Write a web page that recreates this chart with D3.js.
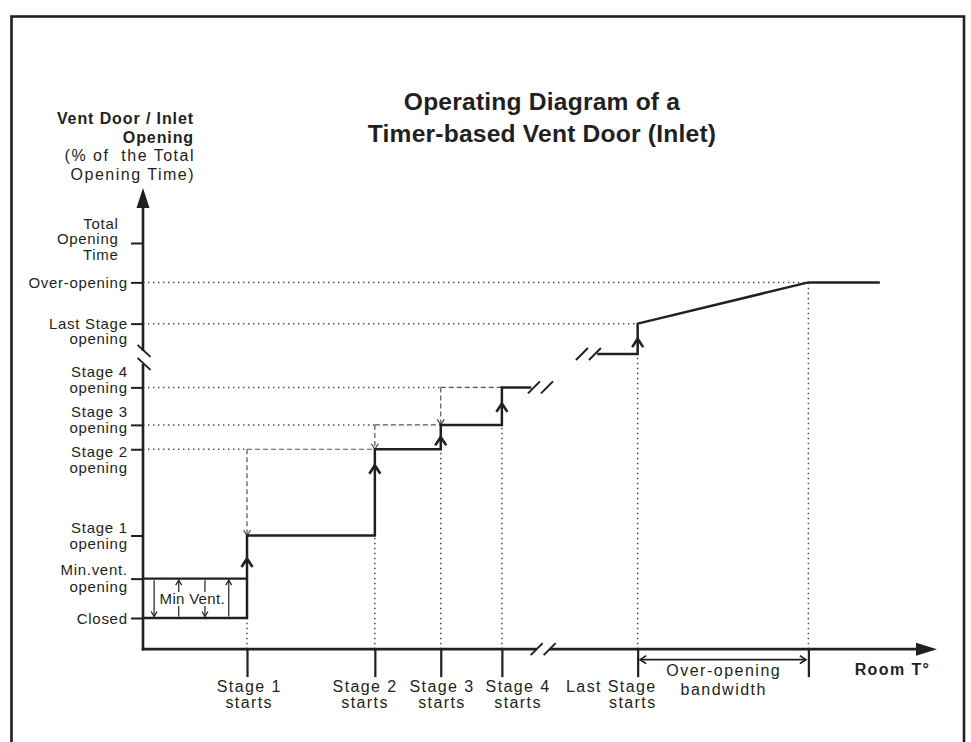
<!DOCTYPE html>
<html>
<head>
<meta charset="utf-8">
<script src="https://cdn.jsdelivr.net/npm/d3@7"></script>
<style>
  body { margin: 0; background: #fff; }
  svg text { font-family: "Liberation Sans", Arial, Helvetica, sans-serif; fill: #231f20; white-space: pre; }
</style>
</head>
<body>
<svg id="chart" width="971" height="742"></svg>
<script>
// ---- Data -------------------------------------------------------------
// Opening levels on the vertical axis (% of the total opening time)
const levelLabels = [
  ["Closed"], ["Min.vent.", "opening"], ["Stage 1", "opening"], ["Stage 2", "opening"],
  ["Stage 3", "opening"], ["Stage 4", "opening"], ["Last Stage", "opening"],
  ["Over-opening"], ["Total", "Opening", "Time"]
];
const levelValues = [0, 10.5, 22, 45, 51.5, 61.5, 78.5, 89.5, 100];

// Room temperature (relative units) at which each stage starts, and its opening
const stageLabels = [["Stage 1", "starts"], ["Stage 2", "starts"], ["Stage 3", "starts"], ["Stage 4", "starts"], ["Last Stage", "starts"]];
const stageStarts = [13.1, 29.2, 37.5, 45.2, 62.3];
const stageLevels = [22, 45, 51.5, 61.5, 78.5];

const minVentLevel = 10.5;
const beforeLastLevel = 70.4;       // opening held just before the last stage
const overOpeningEnd = 83.8;        // end of the over-opening bandwidth
const overOpeningLevel = 89.5;
const curveEnd = 92.8;
const curveBreak = [48.9, 57.2];    // curve is interrupted between these temperatures

const titleLines = ["Operating Diagram of a", "Timer-based Vent Door (Inlet)"];
const yTitleLines = ["Vent Door / Inlet", "Opening", "(% of  the Total", "Opening Time)"];
const xTitle = "Room T°";
const bandLabel = ["Over-opening", "bandwidth"];
const minVentLabel = "Min Vent.";

// ---- Layout -----------------------------------------------------------
const ink = "#231f20";
const guide = "#4a4a4a";
const x = d3.scaleLinear().domain([0, 100]).range([143, 937]);
const y = d3.scaleLinear().domain([0, 100]).range([618, 243]);
const xAxisAt = -8.3;        // vertical value where the temperature axis runs
const yAxisTop = 114.7;      // arrow tip of the opening axis
const yAxisBreak = 69.5;
const xAxisBreak = 50.4;
const curveBreakMarks = [[50.06, 61.5], [56.1, 70.4]];

const levelLabelDy = [5.5, -4, -3.5, 7, -8, -10.5, 4.5, 5, -15];
const levelLineGap = [16, 16.5, 16, 16, 16, 16, 15.5, 16, 15.5];
const stageLabelShift = [1, -11, 0, 15, 17];
const stageLabelAnchor = ["middle", "middle", "middle", "middle", "end"];
const chevronOffset = [23, 16, 12, 16, 15];
const minVentArrows = [[1.4, "down"], [4.5, "up"], [7.8, "down"], [10.8, "up"]];

const svg = d3.select("#chart");
const line = d3.line().x(d => x(d[0])).y(d => y(d[1]));

// frame
svg.append("rect")
  .attr("x", 11.5).attr("y", 16.5).attr("width", 952.5).attr("height", 780)
  .attr("fill", "none").attr("stroke", ink).attr("stroke-width", 2.6);

// title
svg.append("g").selectAll("text").data(titleLines).join("text")
  .attr("x", 542).attr("y", (d, i) => 109.5 + i * 32)
  .attr("text-anchor", "middle")
  .style("font-size", "24.6px").style("font-weight", "bold").style("letter-spacing", "0.2px")
  .text(d => d);

// vertical axis title
svg.append("g").selectAll("text").data(yTitleLines).join("text")
  .attr("x", (d, i) => i < 2 ? 194 : 195)
  .attr("y", (d, i) => [124, 142.5, 161, 180][i])
  .attr("text-anchor", "end")
  .style("font-size", "16px")
  .style("font-weight", (d, i) => i < 2 ? "bold" : "normal")
  .style("letter-spacing", (d, i) => i < 2 ? "0.9px" : "1.5px")
  .text(d => d);

// ---- Guide lines --------------------------------------------------------
const dotted = g => g.attr("fill", "none").attr("stroke", guide)
  .attr("stroke-width", 1.5).attr("stroke-dasharray", "1.4,3.6");
const dashed = g => g.attr("fill", "none").attr("stroke", "#555")
  .attr("stroke-width", 1.2).attr("stroke-dasharray", "5,3");

const gGuides = svg.append("g");

// horizontal dotted lines from the axis to the point where each level is reached
const hDotted = [
  [stageLevels[1], stageStarts[0]],
  [stageLevels[2], stageStarts[1]],
  [stageLevels[3], stageStarts[2]],
  [stageLevels[4], stageStarts[4]],
  [overOpeningLevel, overOpeningEnd]
];
hDotted.forEach(([lv, xe]) => {
  gGuides.append("path").call(dotted).attr("d", line([[0, lv], [xe, lv]]));
});

// vertical dotted lines from the temperature axis up to the curve
const vDotted = [
  [stageStarts[0], 0],
  [stageStarts[1], stageLevels[0]],
  [stageStarts[2], stageLevels[1]],
  [stageStarts[3], stageLevels[2]],
  [stageStarts[4], beforeLastLevel],
  [overOpeningEnd, overOpeningLevel]
];
vDotted.forEach(([xv, lv]) => {
  gGuides.append("path").call(dotted).attr("d", line([[xv, xAxisAt], [xv, lv]]));
});

// dashed lines showing the next stage's target opening
for (let i = 0; i < 3; i++) {
  const x0 = stageStarts[i], x1 = stageStarts[i + 1], lv = stageLevels[i + 1];
  gGuides.append("path").call(dashed).attr("d", line([[x0, lv], [x1, lv]]));
  gGuides.append("path").call(dashed).attr("d", line([[x0, lv], [x0, stageLevels[i]]]));
  const cx = x(x0), tip = y(stageLevels[i]);
  gGuides.append("path")
    .attr("d", `M${cx - 3.5},${tip - 5.5}L${cx},${tip}L${cx + 3.5},${tip - 5.5}`)
    .attr("fill", "none").attr("stroke", "#444").attr("stroke-width", 1.2);
}

// ---- Curve --------------------------------------------------------------
const ptsA = [[0, levelValues[0]]];
let prev = levelValues[0];
for (let i = 0; i < 4; i++) {
  ptsA.push([stageStarts[i], prev], [stageStarts[i], stageLevels[i]]);
  prev = stageLevels[i];
}
ptsA.push([curveBreak[0], prev]);
const ptsB = [
  [curveBreak[1], beforeLastLevel], [stageStarts[4], beforeLastLevel],
  [stageStarts[4], stageLevels[4]], [overOpeningEnd, overOpeningLevel],
  [curveEnd, overOpeningLevel]
];

const gCurve = svg.append("g").attr("fill", "none").attr("stroke", ink);
gCurve.append("path").attr("d", line(ptsA)).attr("stroke-width", 2.5);
gCurve.append("path").attr("d", line(ptsB)).attr("stroke-width", 2.5);
gCurve.append("path").attr("d", line([[0, minVentLevel], [stageStarts[0], minVentLevel]])).attr("stroke-width", 2.3);

// upward chevrons on each opening step
stageStarts.forEach((s, i) => {
  const cx = x(s), tip = y(stageLevels[i]) + chevronOffset[i];
  gCurve.append("path")
    .attr("d", `M${cx - 5.5},${tip + 8.5}Q${cx - 1.5},${tip + 2.5} ${cx},${tip}Q${cx + 1.5},${tip + 2.5} ${cx + 5.5},${tip + 8.5}`)
    .attr("stroke-width", 2.6).attr("stroke-linejoin", "round");
});

// break marks: two parallel slashes
function slashPair(cx, cy, vertical) {
  const g = svg.append("g").attr("stroke", ink).attr("stroke-width", 2);
  const offs = [-6.5, 6.5];
  offs.forEach(o => {
    if (vertical) {
      g.append("line").attr("x1", cx - 6.5).attr("y1", cy + o - 6)
        .attr("x2", cx + 6.5).attr("y2", cy + o + 6);
    } else {
      g.append("line").attr("x1", cx + o - 6).attr("y1", cy + 6)
        .attr("x2", cx + o + 6).attr("y2", cy - 6);
    }
  });
}
curveBreakMarks.forEach(([xv, lv]) => slashPair(x(xv), y(lv), false));

// ---- Min. ventilation band ------------------------------------------------
const gMin = svg.append("g").attr("stroke", ink).attr("fill", "none").attr("stroke-width", 1.2);
minVentArrows.forEach(([xv, dir]) => {
  const cx = x(xv);
  const top = y(minVentLevel) + 1.5, bot = y(0) - 1.5;
  gMin.append("line").attr("x1", cx).attr("x2", cx).attr("y1", top).attr("y2", bot);
  const tip = dir === "down" ? bot : top;
  const s = dir === "down" ? -1 : 1;
  gMin.append("path").attr("d", `M${cx - 3},${tip + s * 5}L${cx},${tip}L${cx + 3},${tip + s * 5}`);
});
const mvText = svg.append("text")
  .attr("x", x(6.2)).attr("y", 604).attr("text-anchor", "middle")
  .style("font-size", "15px").style("letter-spacing", "0.3px")
  .text(minVentLabel);
const bb = mvText.node().getBBox();
svg.insert("rect", () => mvText.node())
  .attr("x", bb.x - 1).attr("y", bb.y + 2).attr("width", bb.width + 2).attr("height", bb.height - 3)
  .attr("fill", "#fff");

// ---- Axes ---------------------------------------------------------------
const axisInk = g => g.attr("stroke", ink).attr("fill", "none");

// vertical axis
const yAxis = d3.axisLeft(y).tickValues(levelValues).tickSize(12).tickSizeOuter(0).tickFormat("");
const gy = svg.append("g").attr("transform", `translate(${x(0)},0)`).call(yAxis);
gy.select(".domain").remove();
gy.selectAll(".tick line").attr("stroke", ink).attr("stroke-width", 2);
gy.selectAll(".tick").each(function (d, i) {
  const t = d3.select(this).append("text")
    .attr("x", i === levelValues.length - 1 ? -24.5 : -15.3)
    .attr("text-anchor", "end")
    .style("font-size", "15px").style("letter-spacing", "0.7px");
  levelLabels[i].forEach((s, k) => {
    t.append("tspan").attr("x", i === levelValues.length - 1 ? -24.5 : -15.3)
      .attr("y", levelLabelDy[i] + k * levelLineGap[i]).text(s);
  });
});

const yBreakPx = y(yAxisBreak);
svg.append("path").call(axisInk).attr("stroke-width", 2.6)
  .attr("d", `M${x(0)},${y(xAxisAt) + 1.3}V${yBreakPx + 6.5}M${x(0)},${yBreakPx - 6.5}V${y(yAxisTop) + 18}`);
svg.append("path").attr("fill", ink)
  .attr("d", `M${x(0)},${y(yAxisTop)}L${x(0) - 6.5},${y(yAxisTop) + 20}L${x(0) + 6.5},${y(yAxisTop) + 20}Z`);
slashPair(x(0) + 1, yBreakPx, true);

// temperature axis
const xTicks = stageStarts.concat([overOpeningEnd]);
const xAxis = d3.axisBottom(x).tickValues(xTicks).tickSize(28).tickSizeOuter(0).tickFormat("");
const gx = svg.append("g").attr("transform", `translate(0,${y(xAxisAt)})`).call(xAxis);
gx.select(".domain").remove();
gx.selectAll(".tick line").attr("stroke", ink).attr("stroke-width", 2.2);
gx.selectAll(".tick").filter((d, i) => i < stageLabels.length).each(function (d, i) {
  const t = d3.select(this).append("text")
    .attr("text-anchor", stageLabelAnchor[i])
    .style("font-size", "16px").style("letter-spacing", "1.4px");
  stageLabels[i].forEach((s, k) => {
    t.append("tspan").attr("x", stageLabelShift[i] + (stageLabelAnchor[i] === "end" ? 1.4 : 0.7))
      .attr("y", 42.5 + k * 16.5).text(s);
  });
});

const xAxisPx = y(xAxisAt), xb = x(xAxisBreak);
svg.append("path").call(axisInk).attr("stroke-width", 2.6)
  .attr("d", `M${x(0) - 1.3},${xAxisPx}H${xb - 6.5}M${xb + 6.5},${xAxisPx}H${x(100) - 20}`);
svg.append("path").attr("fill", ink)
  .attr("d", `M${x(100)},${xAxisPx}L${x(100) - 21},${xAxisPx - 6.5}L${x(100) - 21},${xAxisPx + 6.5}Z`);
slashPair(xb, xAxisPx, false);

svg.append("text").attr("x", 930.4).attr("y", 675).attr("text-anchor", "end")
  .style("font-size", "16px").style("font-weight", "bold").style("letter-spacing", "1.4px")
  .text(xTitle);

// over-opening bandwidth
const bandY = xAxisPx + 10.5;
const bx0 = x(stageStarts[4]) + 2.5, bx1 = x(overOpeningEnd) - 2.5;
const gBand = svg.append("g").attr("stroke", ink).attr("fill", "none").attr("stroke-width", 1.8);
gBand.append("line").attr("x1", bx0).attr("x2", bx1).attr("y1", bandY).attr("y2", bandY);
gBand.append("path").attr("d", `M${bx0 + 6},${bandY - 4}L${bx0},${bandY}L${bx0 + 6},${bandY + 4}`);
gBand.append("path").attr("d", `M${bx1 - 6},${bandY - 4}L${bx1},${bandY}L${bx1 - 6},${bandY + 4}`);
svg.append("g").selectAll("text").data(bandLabel).join("text")
  .attr("x", x((stageStarts[4] + overOpeningEnd) / 2) + 0.7)
  .attr("y", (d, i) => 676 + i * 18.5)
  .attr("text-anchor", "middle")
  .style("font-size", "16px").style("letter-spacing", "1.5px")
  .text(d => d);
</script>
</body>
</html>
